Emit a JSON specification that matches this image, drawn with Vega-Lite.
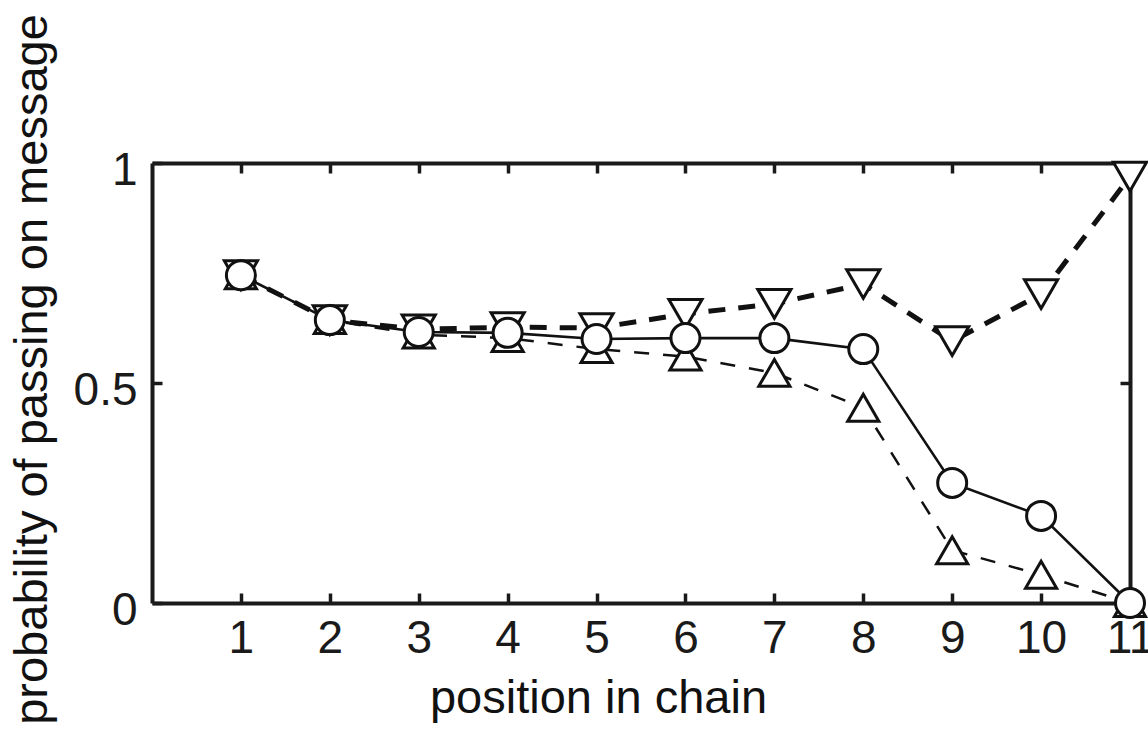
{
  "$schema": "https://vega.github.io/schema/vega-lite/v6.json",
  "width": 978,
  "height": 440,
  "autosize": {"type": "none"},
  "padding": {"left": 152, "top": 163, "right": 18, "bottom": 130},
  "background": "white",
  "config": {
    "view": {"stroke": null},
    "font": "Liberation Sans",
    "axis": {
      "grid": false,
      "domainColor": "#1a1a1a",
      "domainWidth": 4,
      "tickColor": "#1a1a1a",
      "tickWidth": 3.5,
      "labelColor": "#1a1a1a",
      "labelFont": "Liberation Sans",
      "labelFontSize": 46,
      "titleFont": "Liberation Sans",
      "titleFontSize": 47,
      "titleFontWeight": "normal",
      "titleColor": "#111111"
    }
  },
  "data": {
    "values": [
      {"pos": 1, "series": "up", "p": 0.745},
      {"pos": 2, "series": "up", "p": 0.643},
      {"pos": 3, "series": "up", "p": 0.61},
      {"pos": 4, "series": "up", "p": 0.602},
      {"pos": 5, "series": "up", "p": 0.577},
      {"pos": 6, "series": "up", "p": 0.56},
      {"pos": 7, "series": "up", "p": 0.523},
      {"pos": 8, "series": "up", "p": 0.444},
      {"pos": 9, "series": "up", "p": 0.12},
      {"pos": 10, "series": "up", "p": 0.064},
      {"pos": 11, "series": "up", "p": 0.0},
      {"pos": 1, "series": "down", "p": 0.745},
      {"pos": 2, "series": "down", "p": 0.643},
      {"pos": 3, "series": "down", "p": 0.622},
      {"pos": 4, "series": "down", "p": 0.627},
      {"pos": 5, "series": "down", "p": 0.625},
      {"pos": 6, "series": "down", "p": 0.657},
      {"pos": 7, "series": "down", "p": 0.68},
      {"pos": 8, "series": "down", "p": 0.725},
      {"pos": 9, "series": "down", "p": 0.595},
      {"pos": 10, "series": "down", "p": 0.702},
      {"pos": 11, "series": "down", "p": 0.969},
      {"pos": 1, "series": "circle", "p": 0.745},
      {"pos": 2, "series": "circle", "p": 0.643},
      {"pos": 3, "series": "circle", "p": 0.616},
      {"pos": 4, "series": "circle", "p": 0.614},
      {"pos": 5, "series": "circle", "p": 0.6},
      {"pos": 6, "series": "circle", "p": 0.602},
      {"pos": 7, "series": "circle", "p": 0.602},
      {"pos": 8, "series": "circle", "p": 0.577},
      {"pos": 9, "series": "circle", "p": 0.273},
      {"pos": 10, "series": "circle", "p": 0.198},
      {"pos": 11, "series": "circle", "p": 0.0}
    ]
  },
  "resolve": {"axis": {"x": "independent", "y": "independent"}},
  "layer": [
    {
      "transform": [{"filter": "datum.series === 'up'"}],
      "mark": {"type": "line", "color": "#111111", "strokeWidth": 2.5, "strokeDash": [15, 14], "strokeCap": "butt"},
      "encoding": {
        "x": {
          "field": "pos", "type": "quantitative",
          "scale": {"domain": [0, 11], "nice": false, "zero": false},
          "axis": {
            "orient": "bottom",
            "values": [1, 2, 3, 4, 5, 6, 7, 8, 9, 10, 11],
            "format": "d",
            "ticks": true,
            "tickSize": -10,
            "labelPadding": 23,
            "labelFlush": false,
            "labelOverlap": false,
            "title": "position in chain",
            "titleX": 446,
            "titleY": 109,
            "titleAlign": "center",
            "titleBaseline": "alphabetic"
          }
        },
        "y": {
          "field": "p", "type": "quantitative",
          "scale": {"domain": [0, 1], "nice": false},
          "axis": {
            "orient": "left",
            "values": [0, 0.5, 1],
            "format": "~g",
            "ticks": true,
            "tickSize": -10,
            "labelPadding": 25,
            "labelOffset": 7,
            "labelFlush": false,
            "labelOverlap": false,
            "title": "probability of passing on message",
            "titleX": -106,
            "titleY": 206,
            "titleAngle": 270,
            "titleAlign": "center",
            "titleBaseline": "alphabetic"
          }
        }
      }
    },
    {
      "transform": [{"filter": "datum.series === 'down'"}],
      "mark": {"type": "line", "color": "#111111", "strokeWidth": 5, "strokeDash": [17, 13], "strokeCap": "butt"},
      "encoding": {
        "x": {"field": "pos", "type": "quantitative", "axis": null},
        "y": {"field": "p", "type": "quantitative", "axis": null}
      }
    },
    {
      "transform": [{"filter": "datum.series === 'circle'"}],
      "mark": {"type": "line", "color": "#111111", "strokeWidth": 2.6},
      "encoding": {
        "x": {
          "field": "pos", "type": "quantitative",
          "axis": {
            "orient": "top",
            "values": [1, 2, 3, 4, 5, 6, 7, 8, 9, 10, 11],
            "labels": false,
            "ticks": true,
            "tickSize": -10,
            "title": null
          }
        },
        "y": {
          "field": "p", "type": "quantitative",
          "axis": {
            "orient": "right",
            "values": [0, 0.5, 1],
            "labels": false,
            "ticks": true,
            "tickSize": -10,
            "title": null
          }
        }
      }
    },
    {
      "mark": {"type": "point", "filled": false, "fill": "white", "fillOpacity": 1, "stroke": "#111111", "strokeWidth": 3, "opacity": 1},
      "encoding": {
        "x": {"field": "pos", "type": "quantitative", "axis": null},
        "y": {"field": "p", "type": "quantitative", "axis": null},
        "shape": {
          "field": "series", "type": "nominal",
          "scale": {"domain": ["circle", "up", "down"], "range": ["circle", "triangle-up", "triangle-down"]},
          "legend": null
        },
        "size": {
          "field": "series", "type": "nominal",
          "scale": {"domain": ["circle", "up", "down"], "range": [841, 1100, 1100]},
          "legend": null
        }
      }
    }
  ]
}
